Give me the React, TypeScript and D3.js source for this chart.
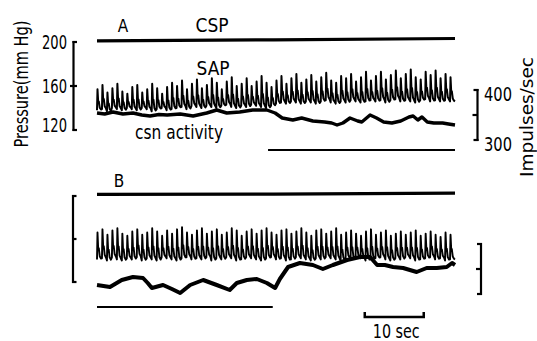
import React from 'react';
import * as d3 from 'd3';

// ---- data ----
const TIME_END = 60.7; // seconds shown in each panel

// Panel A: systemic arterial pressure, per beat (mmHg)
const sapSysA = [
  157, 161, 154, 158, 162, 155, 153, 159, 161, 154, 157, 162, 158, 153, 159, 163,
  160, 165, 157, 162, 166, 158, 161, 167, 163, 157, 164, 168, 160, 162, 167, 160, 164, 169, 163, 159,
  165, 169, 162, 167, 171, 163, 166, 170, 164, 168, 172, 165, 163, 169, 167, 171, 164, 168, 173, 165,
  169, 173, 166, 170, 174, 167, 171, 175, 168, 166, 173, 170, 174, 167, 171, 168,
];
const sapDiaA = [
  138, 139, 137, 140, 139, 138, 140, 139, 138, 140, 139, 137, 139, 140, 138, 139,
  140, 141, 139, 142, 141, 140, 142, 141, 140, 142, 143, 141, 140, 142, 141, 143, 142, 141, 140, 142,
  144, 145, 144, 146, 145, 144, 146, 145, 144, 146, 147, 145, 144, 146, 145, 147, 146, 145, 146, 147,
  146, 147, 145, 147, 148, 146, 147, 146, 145, 147, 148, 146, 147, 146, 147, 146,
];
// Panel B
const sapSysB = [
  166, 169, 164, 168, 170, 165, 163, 167, 169, 164, 166, 170, 167, 163, 168, 165, 169, 171, 166, 164,
  168, 170, 165, 167, 169, 164, 166, 170, 168, 163, 167, 169, 165, 168, 170, 166, 164, 168, 169, 165,
  167, 170, 166, 163, 168, 169, 165, 167, 170, 164, 166, 168, 165, 163, 167, 169, 164, 166, 168, 163,
  165, 167, 164, 166, 168, 163, 165, 167, 164, 162, 166, 164,
];
const sapDiaB = [
  141, 142, 140, 143, 141, 140, 142, 141, 143, 140, 142, 141, 140, 143, 142, 141, 140, 142, 143, 141,
  142, 141, 143, 140, 142, 141, 143, 142, 140, 141, 143, 142, 141, 140, 142, 143, 141, 142, 140, 141,
  143, 142, 141, 140, 142, 141, 143, 142, 141, 140, 142, 141, 143, 142, 140, 141, 142, 143, 141, 140,
  142, 141, 143, 142, 140, 141, 142, 143, 141, 142, 140, 141,
];

// carotid sinus nerve activity [time s, impulses/sec]
const csnA: [number, number][] = [
  [0, 354], [1.3, 352], [2.7, 356], [4.4, 352], [6.1, 354], [7.6, 350], [9.0, 348], [10.5, 351],
  [11.9, 350], [14.1, 352], [16.3, 348], [18.6, 354], [20.3, 360], [22.0, 354], [24.2, 356],
  [26.4, 360], [28.8, 360], [30.2, 354], [31.4, 344], [33.2, 340], [34.7, 344], [36.6, 338],
  [38.6, 336], [39.8, 334], [40.7, 330], [41.7, 334], [42.9, 344], [44.2, 338], [44.9, 336],
  [46.3, 350], [47.4, 344], [48.6, 336], [50.0, 334], [51.5, 338], [52.9, 346], [53.6, 348],
  [54.4, 340], [55.1, 346], [56.0, 336], [57.1, 334], [58.6, 334], [59.6, 332], [60.7, 330],
];
const csnB: [number, number][] = [
  [0, 318], [2.2, 314], [4.2, 328], [6.1, 334], [7.8, 332], [8.6, 322], [9.3, 312], [11.2, 318],
  [12.7, 310], [14.1, 302], [15.8, 318], [18.0, 328], [20.3, 318], [22.5, 308], [23.7, 322],
  [25.4, 328], [27.1, 330], [28.8, 322], [30.2, 312], [31.0, 330], [32.4, 354], [34.4, 362],
  [36.6, 358], [38.3, 350], [40.0, 358], [42.4, 368], [44.6, 374], [46.3, 374], [47.5, 358],
  [48.8, 358], [50.2, 354], [51.9, 352], [54.2, 344], [55.9, 352], [57.6, 352], [59.3, 354],
  [60.2, 362], [60.7, 358],
];

// carotid sinus pressure (mmHg)
const cspA: [number, number][] = [[0, 201], [30, 202], [60.7, 203.2]];
const cspB: [number, number][] = [[0, 201.6], [30, 201.8], [60.7, 202.6]];

// stimulus markers (seconds)
const markerA: [number, number] = [29, 60.7];
const markerB: [number, number] = [0, 29.8];
const scaleBar: [number, number] = [45.4, 55.4];

const pressureTicks = [120, 160, 200];
const pressureLabels = ['120', '160', '200'];
const impulseTicks = [300, 350, 400];
const impulseLabels = ['300', '', '400'];

// ---- layout ----
const W = 537;
const H = 341;
const FONT = "'Liberation Sans Narrow', 'DejaVu Sans Condensed', 'Liberation Sans', Arial, sans-serif";

const x = d3.scaleLinear().domain([0, TIME_END]).range([97, 455]);
const pA = d3.scaleLinear().domain([120, 200]).range([130, 42]);
const iA = d3.scaleLinear().domain([300, 400]).range([140, 90]);
const pB = d3.scaleLinear().domain([120, 200]).range([282, 196]);
const iB = d3.scaleLinear().domain([300, 400]).range([294, 244]);

// shape of a single pressure pulse within a beat: [phase, fraction of pulse pressure]
const PULSE_SHAPE: [number, number][] = [
  [0, 0], [0.1, 1], [0.24, 0.4], [0.3, 0.34], [0.36, 0.42], [0.55, 0.12], [0.8, 0.03],
];

function sapPath(sys: number[], dia: number[], y: d3.ScaleLinear<number, number>) {
  const n = sys.length;
  const period = TIME_END / n;
  const pts: [number, number][] = [];
  for (let i = 0; i < n; i++) {
    const t0 = i * period;
    for (const [ph, f] of PULSE_SHAPE) {
      pts.push([x(t0 + ph * period), y(dia[i] + f * (sys[i] - dia[i]))]);
    }
  }
  pts.push([x(TIME_END), y(dia[n - 1])]);
  return d3.line()(pts) || '';
}

function linePath(data: [number, number][], y: d3.ScaleLinear<number, number>) {
  return d3.line<[number, number]>().x(d => x(d[0])).y(d => y(d[1]))(data) || '';
}

function LeftBracket({ y, ticks, xPos, midLeft }: { y: d3.ScaleLinear<number, number>; ticks: number[]; xPos: number; midLeft: number }) {
  const [lo, mid, hi] = ticks;
  return (
    <g stroke="#000" strokeWidth={2.2} fill="none">
      <line x1={xPos} x2={xPos} y1={y(hi) - 1} y2={y(lo) + 1} />
      <line x1={xPos - 1} x2={xPos + 3.5} y1={y(hi)} y2={y(hi)} />
      <line x1={xPos - 1} x2={xPos + 3.5} y1={y(lo)} y2={y(lo)} />
      <line x1={xPos - midLeft} x2={xPos + 3.5} y1={y(mid)} y2={y(mid)} />
    </g>
  );
}

function RightBracket({ y, ticks, xPos }: { y: d3.ScaleLinear<number, number>; ticks: number[]; xPos: number }) {
  const [lo, mid, hi] = ticks;
  return (
    <g stroke="#000" strokeWidth={2.2} fill="none">
      <line x1={xPos} x2={xPos} y1={y(hi) - 1} y2={y(lo) + 1} />
      <line x1={xPos - 4} x2={xPos + 1} y1={y(hi)} y2={y(hi)} />
      <line x1={xPos - 4} x2={xPos + 1} y1={y(lo)} y2={y(lo)} />
      <line x1={xPos - 5} x2={xPos} y1={y(mid)} y2={y(mid)} />
    </g>
  );
}

export default function App() {
  const markerRowA = 150;
  const markerRowB = 307;
  const barY = 317;
  return (
    <svg width={W} height={H} viewBox={`0 0 ${W} ${H}`} style={{ position: 'absolute', left: 0, top: 0, background: '#fff' }} fontFamily={FONT}>
      <rect width={W} height={H} fill="#fff" />

      {/* ---------- Panel A ---------- */}
      <text x={123} y={32} fontSize={17} textAnchor="middle">A</text>
      <text x={212} y={32} fontSize={20} textAnchor="middle" textLength={33} lengthAdjust="spacingAndGlyphs">CSP</text>
      <path d={linePath(cspA, pA)} stroke="#000" strokeWidth={3.2} fill="none" />
      <text x={213} y={75} fontSize={20} textAnchor="middle" textLength={33} lengthAdjust="spacingAndGlyphs">SAP</text>
      <path d={sapPath(sapSysA, sapDiaA, pA)} stroke="#000" strokeWidth={2} fill="none" strokeLinejoin="round" />
      <path d={linePath(csnA, iA)} stroke="#000" strokeWidth={3.4} fill="none" strokeLinejoin="round" />
      <text x={179} y={139} fontSize={19} textAnchor="middle" textLength={88} lengthAdjust="spacingAndGlyphs">csn activity</text>
      <line x1={x(markerA[0])} x2={x(markerA[1])} y1={markerRowA} y2={markerRowA} stroke="#000" strokeWidth={2} />

      <LeftBracket y={pA} ticks={pressureTicks} xPos={73.5} midLeft={3.5} />
      {pressureTicks.map((t, i) => (
        <text key={t} x={67} y={pA(t) + (i === 0 ? 2 : 6.5)} fontSize={19} textAnchor="end" textLength={25} lengthAdjust="spacingAndGlyphs">{pressureLabels[i]}</text>
      ))}
      <text transform="translate(28,84) rotate(-90)" fontSize={19} textAnchor="middle" textLength={127} lengthAdjust="spacingAndGlyphs">Pressure(mm Hg)</text>

      <RightBracket y={iA} ticks={impulseTicks} xPos={477.5} />
      {impulseTicks.map((t, i) => impulseLabels[i] ? (
        <text key={t} x={484} y={iA(t) + 11} fontSize={20} textLength={28} lengthAdjust="spacingAndGlyphs">{impulseLabels[i]}</text>
      ) : null)}
      <text transform="translate(533,117) rotate(-90)" fontSize={18} textAnchor="middle" textLength={120} lengthAdjust="spacingAndGlyphs">Impulses/sec</text>

      {/* ---------- Panel B ---------- */}
      <text x={119} y={187} fontSize={17} textAnchor="middle">B</text>
      <path d={linePath(cspB, pB)} stroke="#000" strokeWidth={3.2} fill="none" />
      <path d={sapPath(sapSysB, sapDiaB, pB)} stroke="#000" strokeWidth={1.9} fill="none" strokeLinejoin="round" />
      <path d={linePath(csnB, iB)} stroke="#000" strokeWidth={4} fill="none" strokeLinejoin="round" />
      <line x1={x(markerB[0])} x2={x(markerB[1])} y1={markerRowB} y2={markerRowB} stroke="#000" strokeWidth={2} />
      <LeftBracket y={pB} ticks={pressureTicks} xPos={73} midLeft={0} />
      <RightBracket y={iB} ticks={impulseTicks} xPos={481} />

      {/* time scale bar */}
      <path
        d={`M${x(scaleBar[0])},${barY - 5}V${barY}H${x(scaleBar[1])}V${barY - 5}`}
        stroke="#000" strokeWidth={2.5} fill="none"
      />
      <text x={(x(scaleBar[0]) + x(scaleBar[1])) / 2 + 2} y={338} fontSize={19} textAnchor="middle" textLength={47} lengthAdjust="spacingAndGlyphs">10 sec</text>
    </svg>
  );
}
